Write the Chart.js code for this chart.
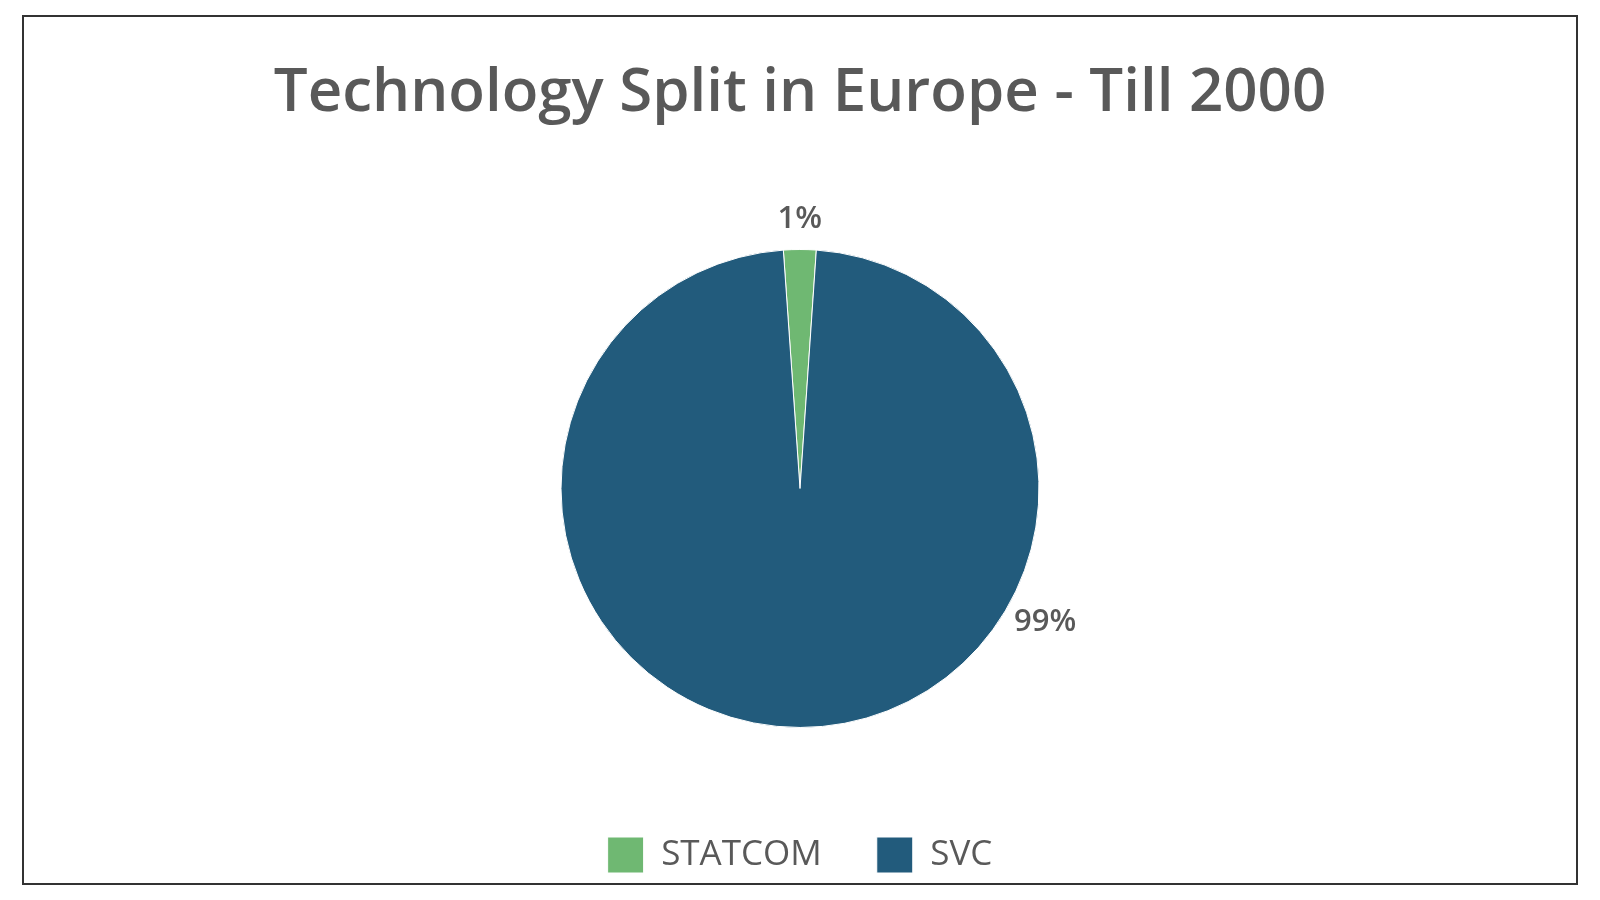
<!DOCTYPE html>
<html>
<head>
<meta charset="utf-8">
<script src="https://cdn.jsdelivr.net/npm/chart.js@4"></script>
<style>
  body { margin: 0; background: #fff; }
  #box { position: absolute; left: 22px; top: 15px; width: 1552px; height: 866px; border: 2px solid #333; }
</style>
</head>
<body>
<div id="box"><canvas id="c" width="1552" height="866"></canvas></div>
<script>
// Technology split pie
const categories = ['STATCOM', 'SVC'];
const shares = [2.2, 97.8];
const shareLabels = ['1%', '99%'];
const colors = ['#6fb872', '#225b7c'];

// draws the percentage text outside each slice
const outsideLabels = {
  id: 'outsideLabels',
  afterDatasetsDraw(chart, args, opts) {
    const ctx = chart.ctx;
    const arcs = chart.getDatasetMeta(0).data;
    ctx.save();
    ctx.font = '600 31px "Open Sans"';
    ctx.fillStyle = '#595959';
    ctx.textAlign = 'center';
    ctx.textBaseline = 'middle';
    arcs.forEach((arc, i) => {
      // small slices: label at mid angle; the big one goes to the lower right
      let ang = (arc.startAngle + arc.endAngle) / 2;
      let off = opts.offset;
      if (arc.endAngle - arc.startAngle > Math.PI) { ang = arc.startAngle + 2.0; off += 10; }
      const r = arc.outerRadius + off;
      ctx.fillText(shareLabels[i], arc.x + Math.cos(ang) * r, arc.y + Math.sin(ang) * r);
    });
    ctx.restore();
  }
};

new Chart(document.getElementById('c'), {
  type: 'pie',
  data: {
    labels: categories,
    datasets: [{
      data: shares,
      backgroundColor: colors,
      borderColor: '#ffffff',
      borderWidth: 1,
      radius: 239
    }]
  },
  options: {
    responsive: false,
    animation: false,
    rotation: -4,
    plugins: {
      title: {
        display: true,
        text: 'Technology Split in Europe - Till 2000',
        color: '#595959',
        font: { family: '"Open Sans"', size: 60, weight: '600' },
        padding: { top: 41, bottom: 65 }
      },
      legend: {
        position: 'bottom',
        padding: 0,
        labels: {
          color: '#595959',
          font: { family: '"Open Sans"', size: 35 },
          boxWidth: 36,
          boxHeight: 36,
          padding: 55
        }
      },
      tooltip: { enabled: false },
      outsideLabels: { offset: 30 }
    }
  },
  plugins: [outsideLabels]
});
</script>
</body>
</html>
